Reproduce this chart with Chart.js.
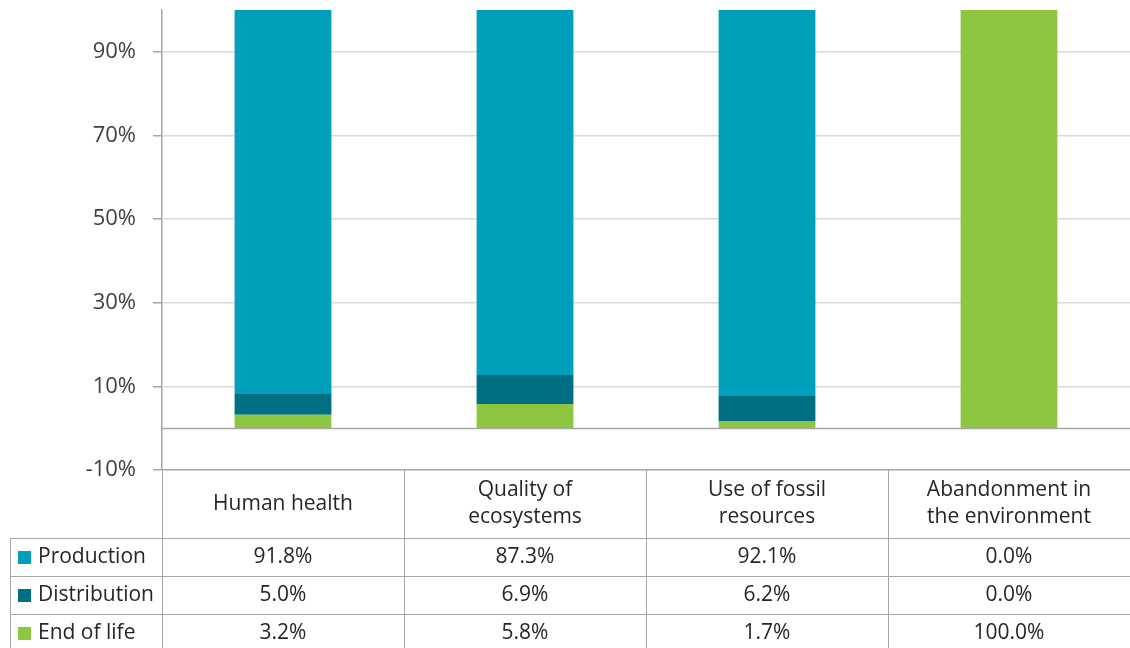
<!DOCTYPE html>
<html>
<head>
<meta charset="utf-8">
<script src="https://cdn.jsdelivr.net/npm/chart.js@4"></script>
<style>
  html, body { margin: 0; padding: 0; background: #fff; }
  #wrap { width: 1130px; height: 648px; }
</style>
</head>
<body>
<div id="wrap"><canvas id="impact"></canvas></div>
<script>
var categories = [['Human health'], ['Quality of', 'ecosystems'], ['Use of fossil', 'resources'], ['Abandonment in', 'the environment']];
var production = [91.8, 87.3, 92.1, 0.0];
var distribution = [5.0, 6.9, 6.2, 0.0];
var endOfLife = [3.2, 5.8, 1.7, 100.0];
var yTicks = [-10, 10, 30, 50, 70, 90];

var FONT = '"Open Sans", "Noto Sans", sans-serif';
var TEXT = '#262626';
var LINE = '#a6a6a6';

// stacked bottom -> top
var series = [
	{ label: 'End of life', data: endOfLife, color: '#8dc63f' },
	{ label: 'Distribution', data: distribution, color: '#006f82' },
	{ label: 'Production', data: production, color: '#00a0bd' }
];

// table under the plot: header row with categories, then one row per series
var dataTable = {
	id: 'dataTable',
	afterDraw: function (chart) {
		var ctx = chart.ctx;
		var area = chart.chartArea;
		var x = chart.scales.x;
		var y = chart.scales.y;
		var headH = 68, rowH = 38, legendLeft = 10;
		var top = area.bottom;
		var bottom = chart.height;
		var step = x.getPixelForValue(1) - x.getPixelForValue(0);

		ctx.save();
		// zero line
		ctx.strokeStyle = LINE;
		ctx.lineWidth = 1.5;
		ctx.beginPath();
		ctx.moveTo(area.left, Math.round(y.getPixelForValue(0)) + 0.5);
		ctx.lineTo(area.right, Math.round(y.getPixelForValue(0)) + 0.5);
		ctx.stroke();

		ctx.lineWidth = 1;
		// vertical lines
		ctx.beginPath();
		ctx.moveTo(area.left + 0.5, top);
		ctx.lineTo(area.left + 0.5, bottom);
		for (var i = 1; i < categories.length; i++) {
			var bx = Math.round(x.getPixelForValue(i) - step / 2) + 0.5;
			ctx.moveTo(bx, top);
			ctx.lineTo(bx, bottom);
		}
		ctx.moveTo(legendLeft + 0.5, top + headH);
		ctx.lineTo(legendLeft + 0.5, bottom);
		// horizontal lines
		for (var r = 0; r < 3; r++) {
			var ly = Math.round(top + headH + r * rowH) + 0.5;
			ctx.moveTo(legendLeft, ly);
			ctx.lineTo(area.right, ly);
		}
		ctx.stroke();

		ctx.fillStyle = TEXT;
		ctx.font = '21px ' + FONT;
		ctx.textAlign = 'center';
		ctx.textBaseline = 'middle';
		// header
		categories.forEach(function (lines, i) {
			var cx = x.getPixelForValue(i);
			var lh = 27;
			var y0 = top + headH / 2 - (lines.length - 1) * lh / 2;
			lines.forEach(function (t, k) {
				ctx.fillText(t, cx, y0 + k * lh);
			});
		});
		// rows
		var rows = series.slice().reverse();
		rows.forEach(function (s, r) {
			var cy = top + headH + r * rowH + rowH / 2;
			ctx.fillStyle = s.color;
			ctx.fillRect(legendLeft + 8, Math.round(cy - 6), 13, 13);
			ctx.fillStyle = TEXT;
			ctx.textAlign = 'left';
			ctx.fillText(s.label, legendLeft + 28, cy);
			ctx.textAlign = 'center';
			s.data.forEach(function (v, i) {
				ctx.fillText(v.toFixed(1) + '%', x.getPixelForValue(i), cy);
			});
		});
		ctx.restore();
	}
};

new Chart(document.getElementById('impact'), {
	type: 'bar',
	data: {
		labels: categories,
		datasets: series.map(function (s) {
			return {
				label: s.label,
				data: s.data,
				backgroundColor: s.color,
				borderWidth: 0,
				categoryPercentage: 0.8,
				barPercentage: 0.5
			};
		})
	},
	options: {
		responsive: true,
		maintainAspectRatio: false,
		animation: false,
		layout: { padding: { top: 10, bottom: 178, left: 0, right: 0 } },
		plugins: {
			legend: { display: false },
			tooltip: { enabled: false }
		},
		scales: {
			x: {
				stacked: true,
				display: false
			},
			y: {
				stacked: true,
				min: -10,
				max: 100,
				afterBuildTicks: function (axis) {
					axis.ticks = yTicks.map(function (v) { return { value: v }; });
				},
				afterFit: function (axis) {
					axis.width = 162;
					axis.paddingTop = 0;
					axis.paddingBottom = 0;
				},
				border: { color: LINE, width: 1.5 },
				grid: {
					color: function (c) { return c.tick && c.tick.value === -10 ? LINE : '#d9d9d9'; },
					lineWidth: 1.5,
					tickLength: 9,
					tickColor: LINE
				},
				ticks: {
					padding: 17,
					color: '#404040',
					font: { family: FONT, size: 22 },
					callback: function (v) { return v + '%'; }
				}
			}
		}
	},
	plugins: [dataTable]
});
</script>
</body>
</html>
